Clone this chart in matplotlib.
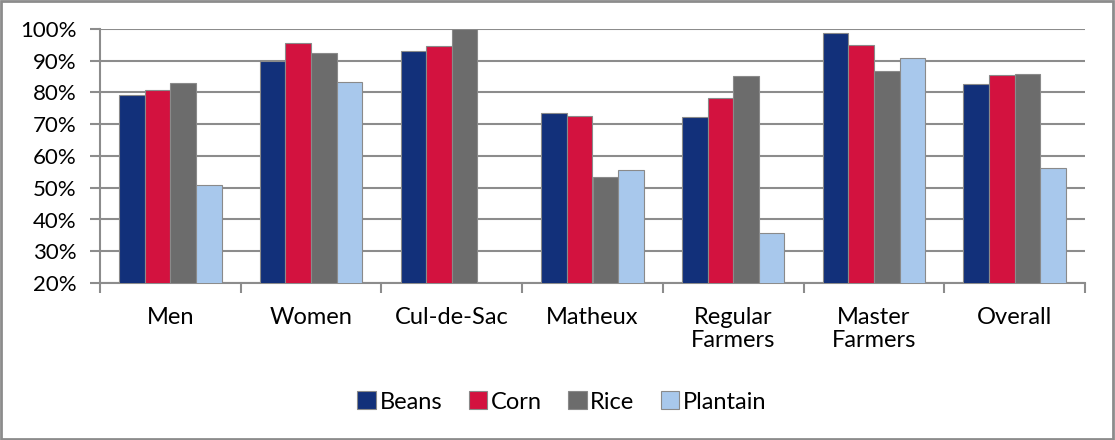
import numpy as np
import matplotlib
matplotlib.use("Agg")
import matplotlib.pyplot as plt
from matplotlib.patches import Rectangle

plt.rcParams['font.family'] = ['Lato', 'DejaVu Sans']

# Adoption rates by group and crop (percent)
groups = ["Men", "Women", "Cul-de-Sac", "Matheux", "Regular\nFarmers", "Master\nFarmers", "Overall"]
beans = [79.2, 89.9, 93.2, 73.4, 72.4, 98.6, 82.6]
corn = [80.8, 95.5, 94.8, 72.6, 78.2, 95.0, 85.5]
rice = [82.9, 92.5, 100.0, 53.5, 85.2, 86.8, 85.8]
plantain = [50.9, 83.2, np.nan, 55.6, 35.8, 90.8, 56.3]

series = [("Beans", beans, "#12307a"),
          ("Corn", corn, "#d3123f"),
          ("Rice", rice, "#6c6c6c"),
          ("Plantain", plantain, "#a8c8ec")]

fig = plt.figure(figsize=(11.15, 4.40), dpi=100)
ax = fig.add_axes([100 / 1115, 1 - 283 / 440, 985 / 1115, 254 / 440])

x = np.arange(len(groups))
w = 0.182
for i, (name, vals, col) in enumerate(series):
    ax.bar(x + (i - 1.5) * w, vals, width=w, bottom=0, color=col,
           edgecolor="#8a8a8a", linewidth=0.8, label=name, zorder=3)

ax.set_ylim(20, 100)
ax.set_xlim(-0.5, len(groups) - 0.5)
ax.set_yticks(range(20, 101, 10))
ax.set_yticklabels([f"{v}%" for v in range(20, 101, 10)], fontsize=16)
ax.yaxis.grid(True, color="#8c8c8c", linewidth=1.5, zorder=0)

ax.set_xticks(x)
ax.set_xticklabels(groups, fontsize=17, linespacing=1.15)
ax.tick_params(axis="x", length=0, pad=17)
ax.set_xticks(np.arange(-0.5, len(groups), 1), minor=True)
ax.tick_params(axis="x", which="minor", length=7, width=1.5, color="#8c8c8c")
ax.tick_params(axis="y", length=7, width=1.5, color="#8c8c8c", pad=10)

for s in ["top", "right"]:
    ax.spines[s].set_visible(False)
for s in ["left", "bottom"]:
    ax.spines[s].set_color("#8c8c8c")
    ax.spines[s].set_linewidth(1.5)

fig.legend(loc="center", bbox_to_anchor=(562 / 1115, 1 - 402 / 440), ncol=4,
           frameon=False, fontsize=17, handlelength=0.8, handleheight=0.8,
           handletextpad=0.15, columnspacing=1.1)

# outer border
fig.patches.append(Rectangle((0.001, 0.002), 0.997, 0.995, transform=fig.transFigure,
                             fill=False, edgecolor="#8c8c8c", linewidth=2))

fig.savefig("out.png", dpi=100)
